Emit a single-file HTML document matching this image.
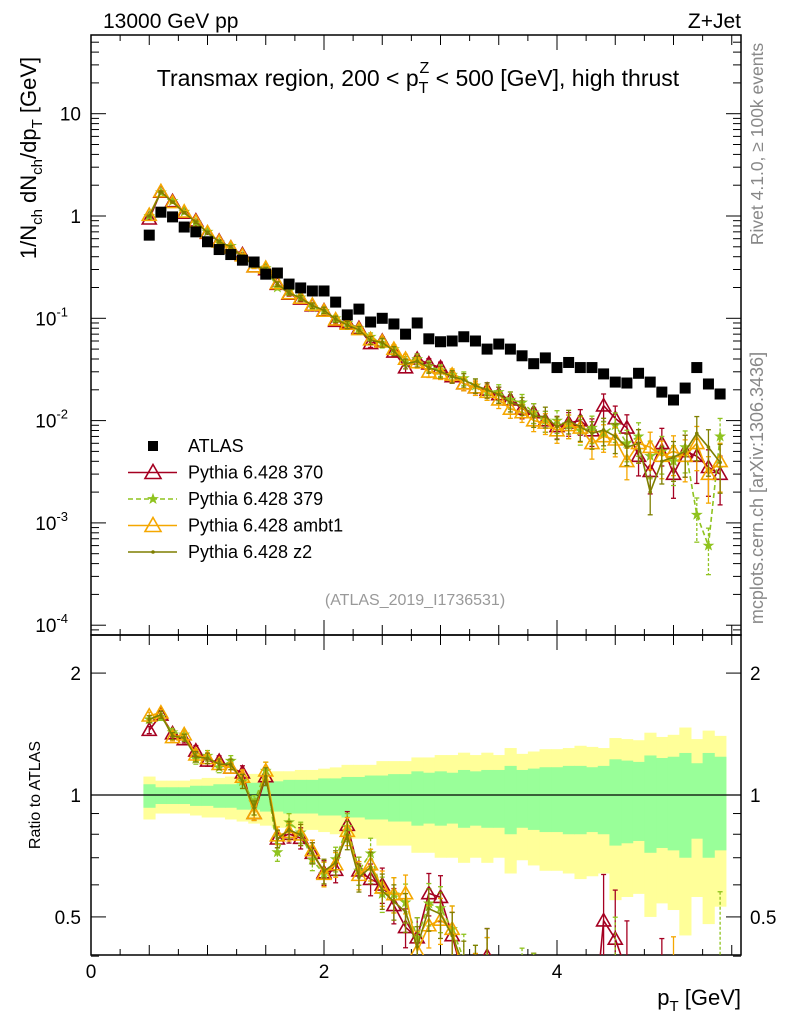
<!DOCTYPE html>
<html><head><meta charset="utf-8"><style>
html,body{margin:0;background:#fff;overflow:hidden;width:786px;height:1024px}
svg{display:block;font-family:"Liberation Sans",sans-serif}
</style></head><body>
<svg id="chart" width="786" height="1024" viewBox="0 0 786 1024" xmlns="http://www.w3.org/2000/svg">
<defs>
<clipPath id="clipMain"><rect x="91" y="35" width="650" height="600"/></clipPath>
<clipPath id="clipRatio"><rect x="91" y="635" width="650" height="320"/></clipPath>
</defs>
<g id="bands" clip-path="url(#clipRatio)"></g>
<g id="frame"></g>
<g id="marks"></g>
<g id="texts">
<text x="103" y="28" font-size="21">13000 GeV pp</text>
<text x="741" y="28" font-size="21" text-anchor="end">Z+Jet</text>
<text x="418" y="86" font-size="23" text-anchor="middle">Transmax region, 200 &lt; p<tspan font-size="16" dy="7">T</tspan><tspan font-size="16" dx="-9" dy="-20">Z</tspan><tspan dy="13"> &lt; 500 [GeV], high thrust</tspan></text>
<text transform="translate(36,158) rotate(-90)" font-size="22" text-anchor="middle">1/N<tspan font-size="15" dy="6">ch</tspan><tspan dy="-6"> dN</tspan><tspan font-size="15" dy="6">ch</tspan><tspan dy="-6">/dp</tspan><tspan font-size="15" dy="6">T</tspan><tspan dy="-6"> [GeV]</tspan></text>
<text transform="translate(763,144) rotate(-90)" font-size="17.5" fill="#888" text-anchor="middle">Rivet 4.1.0, ≥ 100k events</text>
<text transform="translate(763,488) rotate(-90)" font-size="18" fill="#888" text-anchor="middle">mcplots.cern.ch [arXiv:1306.3436]</text>
<text x="415" y="605" font-size="16" fill="#999" text-anchor="middle">(ATLAS_2019_I1736531)</text>
<text transform="translate(40,795) rotate(-90)" font-size="16" text-anchor="middle">Ratio to ATLAS</text>
<text x="741" y="1005" font-size="22" text-anchor="end">p<tspan font-size="15" dy="6">T</tspan><tspan dy="-6"> [GeV]</tspan></text>
</g>
<g id="legend"></g>
</svg>
<script>
const xs=[0.5,0.6,0.7,0.8,0.9,1.0,1.1,1.2,1.3,1.4,1.5,1.6,1.7,1.8,1.9,2.0,2.1,2.2,2.3,2.4,2.5,2.6,2.7,2.8,2.9,3.0,3.1,3.2,3.3,3.4,3.5,3.6,3.7,3.8,3.9,4.0,4.1,4.2,4.3,4.4,4.5,4.6,4.7,4.8,4.9,5.0,5.1,5.2,5.3,5.4];
const atlas=[0.65,1.09,0.98,0.78,0.70,0.56,0.47,0.42,0.37,0.355,0.27,0.277,0.216,0.198,0.185,0.185,0.144,0.108,0.123,0.092,0.100,0.088,0.070,0.090,0.063,0.059,0.060,0.066,0.060,0.050,0.056,0.050,0.043,0.036,0.041,0.033,0.037,0.033,0.033,0.0286,0.0238,0.0233,0.029,0.0238,0.019,0.0159,0.0208,0.033,0.0228,0.0182];
const statErr=[0.07,0.05,0.05,0.05,0.06,0.06,0.07,0.07,0.08,0.08,0.09,0.09,0.10,0.10,0.10,0.11,0.11,0.12,0.12,0.13,0.13,0.14,0.14,0.16,0.15,0.16,0.15,0.17,0.16,0.17,0.17,0.20,0.17,0.18,0.19,0.19,0.20,0.20,0.19,0.20,0.25,0.24,0.23,0.28,0.26,0.27,0.30,0.22,0.30,0.27];
const totErr=[0.13,0.10,0.10,0.10,0.11,0.12,0.12,0.13,0.14,0.15,0.16,0.17,0.17,0.18,0.18,0.19,0.20,0.22,0.22,0.22,0.25,0.25,0.25,0.28,0.28,0.30,0.30,0.32,0.30,0.32,0.30,0.36,0.31,0.33,0.35,0.35,0.36,0.38,0.37,0.36,0.45,0.44,0.43,0.50,0.46,0.48,0.55,0.44,0.52,0.47];
const py370=[0.94,1.72,1.39,1.07,0.90,0.68,0.57,0.49,0.42,0.32,0.30,0.216,0.173,0.155,0.133,0.119,0.094,0.091,0.080,0.057,0.060,0.047,0.033,0.040,0.036,0.033,0.027,0.023,0.021,0.020,0.018,0.016,0.013,0.012,0.010,0.0088,0.0095,0.010,0.0080,0.014,0.0105,0.0085,0.0045,0.0032,0.0060,0.0030,0.0050,0.0045,0.0035,0.0030];
const py379=[1.0,1.70,1.40,1.10,0.86,0.70,0.55,0.51,0.40,0.34,0.31,0.20,0.185,0.160,0.128,0.118,0.100,0.090,0.080,0.066,0.057,0.050,0.038,0.040,0.034,0.031,0.028,0.026,0.022,0.019,0.019,0.016,0.015,0.012,0.010,0.010,0.0090,0.0080,0.0085,0.0075,0.0090,0.0060,0.0070,0.0045,0.0050,0.0040,0.0055,0.0012,0.0006,0.0070];
const pyAmbt1=[1.02,1.74,1.36,1.10,0.88,0.69,0.56,0.49,0.41,0.32,0.31,0.22,0.175,0.158,0.135,0.118,0.097,0.088,0.078,0.062,0.059,0.050,0.040,0.037,0.030,0.029,0.028,0.023,0.021,0.019,0.016,0.013,0.012,0.010,0.0095,0.0080,0.0090,0.0085,0.0060,0.0070,0.0065,0.0040,0.0060,0.0055,0.0045,0.0050,0.0045,0.0060,0.0030,0.0040];
const pyZ2=[1.0,1.72,1.37,1.08,0.87,0.69,0.56,0.50,0.40,0.33,0.30,0.216,0.177,0.158,0.133,0.120,0.098,0.086,0.077,0.061,0.058,0.048,0.036,0.038,0.033,0.030,0.027,0.025,0.022,0.020,0.018,0.015,0.014,0.011,0.011,0.0087,0.010,0.0087,0.0075,0.0081,0.0070,0.0055,0.0060,0.0020,0.0040,0.0044,0.0050,0.0075,0.0055,0.0039];
const mcErr=[0.02,0.02,0.02,0.02,0.03,0.03,0.03,0.03,0.04,0.04,0.05,0.05,0.05,0.06,0.06,0.07,0.07,0.08,0.08,0.09,0.10,0.10,0.11,0.12,0.12,0.13,0.14,0.15,0.16,0.17,0.18,0.19,0.20,0.22,0.23,0.25,0.26,0.28,0.30,0.30,0.32,0.34,0.36,0.40,0.40,0.42,0.44,0.46,0.48,0.50];
const mainTicks=[1e-4,1e-3,1e-2,1e-1,1,10];
const mainTickLabels=[["10","-4"],["10","-3"],["10","-2"],["10","-1"],["1",""],["10",""]];
const xTicks=[0,2,4];
const ratioTicks=[0.5,1,2];

const NS="http://www.w3.org/2000/svg";
const X0=91,X1=741,YT=35,YB=635,RT=635,RB=955;
const sx=v=>91+v*116.5;
const sy=v=>216-102.3*Math.log10(v);
const sr=v=>795-405*Math.log10(v);
const clampY=(y,lim)=>Math.min(y,lim);
function el(tag,attrs,parent){const e=document.createElementNS(NS,tag);for(const k in attrs)e.setAttribute(k,attrs[k]);parent.appendChild(e);return e;}
const frame=document.getElementById('frame'),marks=document.getElementById('marks'),bands=document.getElementById('bands'),legend=document.getElementById('legend');

const hw=116.5*0.05;
xs.forEach((x,i)=>{
  let r=el('rect',{x:sx(x)-hw,y:sr(1+totErr[i]*0.85),width:2*hw+0.5,height:sr(Math.max(1-totErr[i],0.3))-sr(1+totErr[i]*0.85),fill:'#ffff99'},bands);
  
  
});
xs.forEach((x,i)=>{
  let r=el('rect',{x:sx(x)-hw,y:sr(1+statErr[i]*0.9),width:2*hw+0.5,height:sr(1-statErr[i])-sr(1+statErr[i]*0.9),fill:'#99ff99'},bands);
  
  
});
el('line',{x1:X0,x2:X1,y1:sr(1),y2:sr(1),stroke:'#000','stroke-width':1.2},bands);

el('rect',{x:X0,y:YT,width:X1-X0,height:YB-YT,fill:'none',stroke:'#000','stroke-width':1.5},frame);
el('rect',{x:X0,y:RT,width:X1-X0,height:RB-RT,fill:'none',stroke:'#000','stroke-width':1.5},frame);
function tick(x1,y1,x2,y2){el('line',{x1,y1,x2,y2,stroke:'#000','stroke-width':1},frame);}
for(let d=-5;d<=1;d++){for(let m=1;m<10;m++){const v=m*Math.pow(10,d);const y=sy(v);if(y<YT||y>YB)continue;const L=m==1?15:8;tick(X0,y,X0+L,y);tick(X1,y,X1-L,y);}}
mainTicks.forEach((v,i)=>{const y=sy(v);const t=el('text',{x:81,y:y+7,'font-size':19,'text-anchor':'end'},frame);
 
 
 const lab=mainTickLabels[i];
 if(lab[1]){t.setAttribute('x',68);t.textContent=lab[0];const s=el('tspan',{'font-size':13,dy:-9},t);s.textContent=lab[1];}else t.textContent=lab[0];});
[0.4,0.5,0.6,0.7,0.8,0.9,1,2].forEach(v=>{const y=sr(v);const L=(v==0.5||v==1||v==2)?15:8;tick(X0,y,X0+L,y);tick(X1,y,X1-L,y);});
ratioTicks.forEach(v=>{const y=sr(v);
 const t=el('text',{x:81,y:y+7,'font-size':19,'text-anchor':'end'},frame);t.textContent=String(v);
 
 
 const t2=el('text',{x:750,y:y+7,'font-size':19},frame);t2.textContent=String(v);
 
 });
for(let v=0;v<=5.5;v+=0.25){const x=sx(v);if(x>X1)break;const maj=Math.abs(v%2)<1e-9;const half=Math.abs(v%0.5)<1e-9;const L=maj?15:(half?10:6);
 tick(x,YT,x,YT+L);tick(x,YB,x,YB-L);tick(x,RT,x,RT+L);tick(x,RB,x,RB-L);}
xTicks.forEach(v=>{const t=el('text',{x:sx(v),y:978,'font-size':19,'text-anchor':'middle'},frame);t.textContent=String(v);
 
 });

const series=[
 {name:'Pythia 6.428 370',vals:py370,color:'#a50021',dash:'',mk:'tri',key:'series-370'},
 {name:'Pythia 6.428 379',vals:py379,color:'#8fc31f',dash:'5,3',mk:'star',key:'series-379'},
 {name:'Pythia 6.428 ambt1',vals:pyAmbt1,color:'#f5a700',dash:'',mk:'tri',key:'series-ambt1'},
 {name:'Pythia 6.428 z2',vals:pyZ2,color:'#7f7f00',dash:'',mk:'dot',key:'series-z2'}];
function marker(g,mk,x,y,c,big){
 if(mk=='tri'){const s=big?8:7;return el('path',{d:`M${x},${y-s}L${x+s},${y+s*0.75}L${x-s},${y+s*0.75}Z`,fill:'none',stroke:c,'stroke-width':1.6},g);}
 if(mk=='star'){let p='';for(let k=0;k<10;k++){const r=k%2?2:5;const a=-Math.PI/2+k*Math.PI/5;p+=(k?'L':'M')+(x+r*Math.cos(a)).toFixed(1)+','+(y+r*Math.sin(a)).toFixed(1);}return el('path',{d:p+'Z',fill:c,stroke:c,'stroke-width':0.8},g);}
 return el('circle',{cx:x,cy:y,r:1.8,fill:c},g);}
const gMain=el('g',{'clip-path':'url(#clipMain)'},marks);
const gRat=el('g',{'clip-path':'url(#clipRatio)'},marks);
series.forEach(s=>{
 [[gMain,(i)=>sy(s.vals[i]),(i,f)=>clampY(sy(Math.max(s.vals[i]*f,1e-9)),640),true],[gRat,(i)=>sr(s.vals[i]/atlas[i]),(i,f)=>clampY(sr(Math.max(s.vals[i]*f/atlas[i],1e-9)),960),false]].forEach(([g,fy,fe,isMain])=>{
  const sg=el('g',{},g);
  
  
  const pts=xs.map((x,i)=>sx(x).toFixed(1)+','+fy(i).toFixed(1)).join(' ');
  const pl=el('polyline',{points:pts,fill:'none',stroke:s.color,'stroke-width':1.6},sg);
  if(s.dash)pl.setAttribute('stroke-dasharray',s.dash);
  
  
  xs.forEach((x,i)=>{const X=sx(x);const e=mcErr[i];const y1=fe(i,1+e),y2=fe(i,Math.max(1-e,0.001));
   const l=el('line',{x1:X,x2:X,y1,y2,stroke:s.color,'stroke-width':1.3},sg);if(s.dash)l.setAttribute('stroke-dasharray','3,2');
   el('line',{x1:X-2.5,x2:X+2.5,y1,y2:y1,stroke:s.color,'stroke-width':1.3},sg);
   el('line',{x1:X-2.5,x2:X+2.5,y1:y2,y2,stroke:s.color,'stroke-width':1.3},sg);
   const py=fy(i);
   if(py<(isMain?650:970)){
   const m=marker(sg,s.mk,X,py,s.color);
   
   }});
 });
});
xs.forEach((x,i)=>{const r=el('rect',{x:sx(x)-5.5,y:sy(atlas[i])-5.5,width:11,height:11,fill:'#000'},gMain);
 
 });

const rows=[{name:'ATLAS',mk:'sq',color:'#000'}].concat(series);
rows.forEach((s,k)=>{const y=446+k*26.5;const g=el('g',{},legend);
 
 
 if(s.mk=='sq'){el('rect',{x:148,y:y-5,width:10,height:10,fill:'#000'},g);}
 else{const l=el('line',{x1:128,x2:177,y1:y,y2:y,stroke:s.color,'stroke-width':1.6},g);if(s.dash)l.setAttribute('stroke-dasharray',s.dash);marker(g,s.mk,153,y,s.color,true);}
 const t=el('text',{x:188,y:y+6,'font-size':18},g);t.textContent=s.name;});
</script>
</body></html>
